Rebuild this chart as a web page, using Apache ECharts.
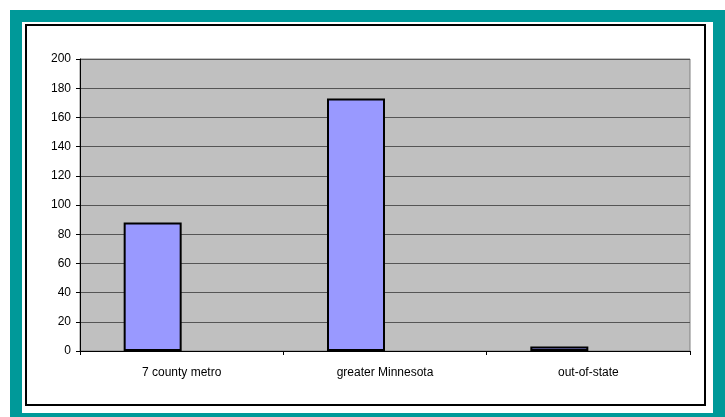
<!DOCTYPE html>
<html>
<head>
<meta charset="utf-8">
<script src="https://cdn.jsdelivr.net/npm/echarts@6/dist/echarts.min.js"></script>
<style>
  html, body { margin: 0; padding: 0; background: #fff; }
  #frame {
    position: absolute; left: 10px; top: 10px; width: 715px; height: 407px;
    background: #009999;
  }
  #inner {
    position: absolute; left: 12px; top: 12px; width: 691px; height: 391px;
    background: #fff;
  }
  #box {
    position: absolute; left: 3px; top: 2px; width: 681px; height: 382px;
    border: 2px solid #000; box-sizing: border-box;
  }
  #chart { position: absolute; left: 0; top: 0; width: 725px; height: 417px; }
</style>
</head>
<body>
<div id="frame"><div id="inner"><div id="box"></div></div></div>
<div id="chart"></div>
<script>
  // 数据
  const categories = ['7 county metro', 'greater Minnesota', 'out-of-state'];
  const counts = [88, 173, 3];
  const yTicks = [0, 20, 40, 60, 80, 100, 120, 140, 160, 180, 200];

  let myChart = echarts.init(document.getElementById('chart'));
  let option = {
    animation: false,
    grid: {
      left: 80,
      right: 35,
      top: 59,
      bottom: 66,
      show: true,
      backgroundColor: '#c0c0c0',
      borderColor: '#808080',
      borderWidth: 1
    },
    xAxis: {
      type: 'category',
      data: categories,
      axisLine: { lineStyle: { color: '#000', width: 1 } },
      axisTick: { show: true, alignWithLabel: false, length: 4, lineStyle: { color: '#000' } },
      axisLabel: {
        color: '#000', fontFamily: 'Liberation Sans', fontSize: 12, margin: 16
      }
    },
    yAxis: {
      type: 'value',
      min: yTicks[0],
      max: yTicks[yTicks.length - 1],
      interval: 20,
      axisLine: { show: true, lineStyle: { color: '#000', width: 1 } },
      axisTick: { show: true, length: 4, lineStyle: { color: '#000' } },
      axisLabel: {
        color: '#000', fontFamily: 'Liberation Sans', fontSize: 12, margin: 9
      },
      splitLine: { show: true, lineStyle: { color: '#555', width: 1 } }
    },
    series: [
      {
        type: 'bar',
        data: counts,
        barWidth: 58,
        barGap: '0%',
        itemStyle: {
          color: '#9999ff',
          borderColor: '#000',
          borderWidth: 2
        }
      },
      {
        // 空系列，占位（原图柱子偏左）
        type: 'bar',
        data: [],
        barWidth: 58
      }
    ]
  };
  myChart.setOption(option);
</script>
</body>
</html>
